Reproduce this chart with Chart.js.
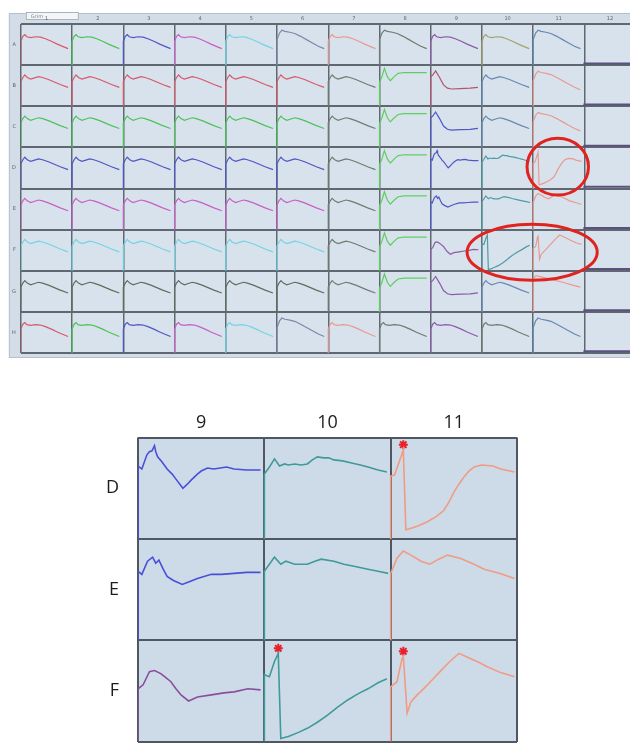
<!DOCTYPE html>
<html>
<head>
<meta charset="utf-8">
<script src="https://cdn.jsdelivr.net/npm/chart.js@4.4.1/dist/chart.umd.min.js"></script>
<style>
  body { margin: 0; background: #fff; width: 630px; height: 748px; position: relative; overflow: hidden; }
  canvas { position: absolute; left: 0; }
  #plate { top: 0; }
  #detail { top: 390px; }
</style>
</head>
<body>
<canvas id="plate" width="630" height="362"></canvas>
<canvas id="detail" width="630" height="358"></canvas>
<script>
// Plate wells
const rowLabels = ['A', 'B', 'C', 'D', 'E', 'F', 'G', 'H'];
const colLabels = ['1', '2', '3', '4', '5', '6', '7', '8', '9', '10', '11', '12'];

// Traces as [fraction of well time, fraction of well height]
const humpTrace = [[0, 0.58], [0.04, 0.70], [0.08, 0.74], [0.12, 0.69], [0.2, 0.67], [0.3, 0.69], [0.4, 0.68], [0.5, 0.64], [0.62, 0.58], [0.74, 0.51], [0.86, 0.45], [0.96, 0.40]];
const peakTrace = [[0, 0.62], [0.05, 0.78], [0.1, 0.85], [0.16, 0.82], [0.26, 0.80], [0.36, 0.77], [0.48, 0.70], [0.6, 0.62], [0.72, 0.54], [0.84, 0.46], [0.96, 0.40]];
const waveTrace = [[0, 0.60], [0.04, 0.70], [0.08, 0.76], [0.13, 0.70], [0.2, 0.66], [0.28, 0.69], [0.36, 0.72], [0.44, 0.70], [0.56, 0.65], [0.68, 0.59], [0.8, 0.53], [0.96, 0.46]];
const spikePlateauTrace = [[0, 0.58], [0.05, 0.72], [0.1, 0.92], [0.16, 0.72], [0.22, 0.62], [0.3, 0.72], [0.38, 0.80], [0.5, 0.82], [0.7, 0.82], [0.96, 0.82]];
const dipFlatTrace = [[0, 0.72], [0.04, 0.76], [0.1, 0.86], [0.18, 0.70], [0.26, 0.52], [0.34, 0.44], [0.42, 0.42], [0.6, 0.43], [0.8, 0.44], [0.96, 0.46]];
const fadeTrace = [[0, 0.80], [0.06, 0.88], [0.2, 0.84], [0.4, 0.78], [0.6, 0.72], [0.8, 0.65], [0.96, 0.60]];
const flatTrace = [[0, 0.04], [1, 0.04]];

const traceD9 = [[0, 0.72], [0.03, 0.69], [0.07, 0.83], [0.09, 0.86], [0.11, 0.87], [0.13, 0.92], [0.14, 0.86], [0.155, 0.81], [0.19, 0.76], [0.23, 0.69], [0.27, 0.64], [0.3, 0.59], [0.355, 0.50], [0.39, 0.54], [0.42, 0.58], [0.47, 0.64], [0.5, 0.67], [0.55, 0.70], [0.6, 0.69], [0.65, 0.70], [0.7, 0.71], [0.76, 0.69], [0.86, 0.68], [0.97, 0.68]];
const traceD10 = [[0, 0.64], [0.04, 0.71], [0.08, 0.79], [0.12, 0.72], [0.16, 0.74], [0.19, 0.73], [0.24, 0.74], [0.29, 0.73], [0.34, 0.74], [0.38, 0.78], [0.42, 0.81], [0.47, 0.80], [0.51, 0.80], [0.55, 0.78], [0.62, 0.77], [0.69, 0.75], [0.76, 0.73], [0.82, 0.71], [0.9, 0.68], [0.97, 0.66]];
const traceD11 = [[0, 0.62], [0.03, 0.63], [0.09, 0.84], [0.10, 0.88], [0.12, 0.09], [0.15, 0.10], [0.22, 0.13], [0.29, 0.17], [0.36, 0.22], [0.42, 0.28], [0.46, 0.36], [0.5, 0.46], [0.54, 0.54], [0.58, 0.61], [0.62, 0.67], [0.66, 0.71], [0.72, 0.73], [0.81, 0.72], [0.87, 0.69], [0.98, 0.66]];
const traceE9 = [[0, 0.68], [0.03, 0.65], [0.075, 0.78], [0.115, 0.82], [0.14, 0.76], [0.165, 0.79], [0.2, 0.70], [0.23, 0.63], [0.28, 0.59], [0.35, 0.55], [0.41, 0.58], [0.47, 0.61], [0.58, 0.65], [0.66, 0.65], [0.76, 0.66], [0.86, 0.67], [0.97, 0.67]];
const traceE10 = [[0, 0.68], [0.08, 0.82], [0.13, 0.75], [0.17, 0.78], [0.24, 0.75], [0.34, 0.75], [0.4, 0.78], [0.45, 0.80], [0.55, 0.78], [0.63, 0.75], [0.71, 0.73], [0.82, 0.70], [0.9, 0.68], [0.98, 0.66]];
const traceE11 = [[0, 0.66], [0.05, 0.81], [0.10, 0.88], [0.16, 0.84], [0.24, 0.78], [0.31, 0.75], [0.38, 0.80], [0.45, 0.84], [0.55, 0.81], [0.66, 0.75], [0.74, 0.70], [0.86, 0.66], [0.98, 0.61]];
const traceF9 = [[0, 0.52], [0.04, 0.56], [0.09, 0.69], [0.13, 0.70], [0.18, 0.67], [0.22, 0.63], [0.26, 0.59], [0.3, 0.52], [0.34, 0.46], [0.4, 0.40], [0.47, 0.44], [0.58, 0.46], [0.68, 0.48], [0.76, 0.49], [0.87, 0.52], [0.97, 0.51]];
const traceF10 = [[0, 0.66], [0.04, 0.64], [0.08, 0.79], [0.11, 0.87], [0.13, 0.03], [0.19, 0.05], [0.27, 0.09], [0.34, 0.13], [0.42, 0.19], [0.5, 0.26], [0.58, 0.34], [0.66, 0.41], [0.74, 0.47], [0.82, 0.52], [0.9, 0.58], [0.97, 0.62]];
const traceF11 = [[0, 0.54], [0.05, 0.59], [0.09, 0.82], [0.10, 0.84], [0.13, 0.28], [0.16, 0.39], [0.21, 0.46], [0.26, 0.52], [0.33, 0.61], [0.39, 0.69], [0.46, 0.78], [0.54, 0.87], [0.63, 0.82], [0.7, 0.78], [0.76, 0.74], [0.87, 0.68], [0.98, 0.64]];

const traces = {
  hump: humpTrace, peak: peakTrace, wave: waveTrace, spike: spikePlateauTrace,
  dip: dipFlatTrace, fade: fadeTrace, flat: flatTrace,
  D9: traceD9, D10: traceD10, D11: traceD11,
  E9: traceE9, E10: traceE10, E11: traceE11,
  F9: traceF9, F10: traceF10, F11: traceF11,
};

// Trace in each well, rows A-H by columns 1-12
const plateTraces = [
  ['hump', 'hump', 'hump', 'hump', 'hump', 'peak', 'hump', 'peak', 'hump', 'hump', 'peak', 'flat'],
  ['wave', 'wave', 'wave', 'wave', 'wave', 'wave', 'wave', 'spike', 'dip', 'wave', 'peak', 'flat'],
  ['wave', 'wave', 'wave', 'wave', 'wave', 'wave', 'wave', 'spike', 'dip', 'wave', 'peak', 'flat'],
  ['wave', 'wave', 'wave', 'wave', 'wave', 'wave', 'wave', 'spike', 'D9', 'D10', 'D11', 'flat'],
  ['wave', 'wave', 'wave', 'wave', 'wave', 'wave', 'wave', 'spike', 'E9', 'E10', 'E11', 'flat'],
  ['wave', 'wave', 'wave', 'wave', 'wave', 'wave', 'wave', 'spike', 'F9', 'F10', 'F11', 'flat'],
  ['wave', 'wave', 'wave', 'wave', 'wave', 'wave', 'wave', 'spike', 'dip', 'wave', 'fade', 'flat'],
  ['hump', 'hump', 'hump', 'hump', 'hump', 'peak', 'hump', 'hump', 'hump', 'hump', 'peak', 'flat'],
];

// Enlarged wells below the plate
const detailRows = ['D', 'E', 'F'];
const detailCols = ['9', '10', '11'];
const starredWells = ['D11', 'F10', 'F11'];

// Line colours
const palette = {
  red: '#d65a6c', green: '#4cc35a', blue: '#4f56c6', magenta: '#c75fc5', cyan: '#74d4e4',
  slate: '#7d88a8', salmon: '#e99a90', gray: '#6f7c72', lime: '#5ccf5c', purple: '#8c5aa8',
  wine: '#b45470', olive: '#a3a46c', steel: '#6788b2', teal: '#4e9ca2', moss: '#58705c', flat: '#5c507e',
};
const plateColors = [
  ['red', 'green', 'blue', 'magenta', 'cyan', 'slate', 'salmon', 'gray', 'purple', 'olive', 'steel', 'flat'],
  ['red', 'red', 'red', 'red', 'red', 'red', 'gray', 'lime', 'wine', 'steel', 'salmon', 'flat'],
  ['green', 'green', 'green', 'green', 'green', 'green', 'gray', 'lime', 'blue', 'steel', 'salmon', 'flat'],
  ['blue', 'blue', 'blue', 'blue', 'blue', 'blue', 'gray', 'lime', 'blue', 'teal', 'salmon', 'flat'],
  ['magenta', 'magenta', 'magenta', 'magenta', 'magenta', 'magenta', 'gray', 'lime', 'blue', 'teal', 'salmon', 'flat'],
  ['cyan', 'cyan', 'cyan', 'cyan', 'cyan', 'cyan', 'gray', 'lime', 'purple', 'teal', 'salmon', 'flat'],
  ['moss', 'moss', 'moss', 'moss', 'moss', 'moss', 'gray', 'lime', 'purple', 'steel', 'salmon', 'flat'],
  ['red', 'green', 'blue', 'magenta', 'cyan', 'slate', 'salmon', 'gray', 'purple', 'gray', 'steel', 'flat'],
];
const detailColors = {
  D9: '#4a4fd8', E9: '#4a4fd8', F9: '#8a4f9c',
  D10: '#3f9a98', E10: '#3f9a98', F10: '#3f9a98',
  D11: '#f19b82', E11: '#f19b82', F11: '#f19b82',
};

// Trace points placed in a well: baseline first, then the recorded curve
const wellPoints = (trace, col, base, span) =>
  [{ x: col, y: base }, ...trace.map(([t, v]) => ({ x: col + t * span, y: base + v }))];

const lineDataset = (data, color, width) => ({
  data, borderColor: color, borderWidth: width, showLine: true,
  pointRadius: 0, fill: false, tension: 0,
});

// Centred tick labels between the grid lines
const centreTicks = (count) => (scale) => {
  scale.ticks = Array.from({ length: count }, (_, i) => ({ value: i + 0.5 }));
};
const edgeTicks = (count) => (scale) => {
  scale.ticks = Array.from({ length: count + 1 }, (_, i) => ({ value: i }));
};
// labels sit mid-cell, so they never overhang the ends of the axis
const noOverhang = (scale) => {
  scale.paddingTop = 0; scale.paddingBottom = 0;
  scale.paddingLeft = 0; scale.paddingRight = 0;
};

// ---------- plate overview ----------
const plateDatasets = [];
rowLabels.forEach((row, r) => {
  colLabels.forEach((col, c) => {
    const trace = traces[plateTraces[r][c]];
    const color = palette[plateColors[r][c]];
    const width = plateTraces[r][c] === 'flat' ? 2 : 1.2;
    plateDatasets.push(lineDataset(wellPoints(trace, c, rowLabels.length - 1 - r, 0.96), color, width));
  });
});

// Red rings around the wells of interest, in axis units
const plateRings = [
  { x: 10.48, y: 4.53, rx: 0.6, ry: 0.69 },
  { x: 9.98, y: 2.45, rx: 1.27, ry: 0.68 },
];

const plateFrame = {
  id: 'plateFrame',
  beforeDraw(chart) {
    const { ctx, chartArea: a } = chart;
    ctx.save();
    ctx.fillStyle = '#d3dde8';
    ctx.fillRect(a.left - 12, a.top - 11, a.width + 12, a.height + 16);
    ctx.strokeStyle = '#b4c0cc';
    ctx.lineWidth = 1;
    ctx.strokeRect(a.left - 11.5, a.top - 10.5, a.width + 12, a.height + 15);
    ctx.fillStyle = '#d8e2ec';
    ctx.fillRect(a.left, a.top, a.width, a.height);
    // window tab
    ctx.fillStyle = '#f3f5f7';
    ctx.fillRect(a.left + 5, a.top - 12, 53, 8);
    ctx.strokeStyle = '#aab3bc';
    ctx.strokeRect(a.left + 5.5, a.top - 11.5, 52, 7);
    ctx.fillStyle = '#7f8790';
    ctx.font = '5px "DejaVu Sans"';
    ctx.fillText('Grim', a.left + 10, a.top - 6);
    ctx.restore();
  },
  afterDraw(chart) {
    const { ctx, scales: { x, y } } = chart;
    ctx.save();
    ctx.strokeStyle = '#e0231f';
    ctx.lineWidth = 3;
    plateRings.forEach((ring) => {
      const cx = x.getPixelForValue(ring.x);
      const cy = y.getPixelForValue(ring.y);
      const rx = x.getPixelForValue(ring.x + ring.rx) - cx;
      const ry = cy - y.getPixelForValue(ring.y + ring.ry);
      ctx.beginPath();
      ctx.ellipse(cx, cy, rx, ry, 0, 0, Math.PI * 2);
      ctx.stroke();
    });
    ctx.restore();
  },
};

new Chart(document.getElementById('plate'), {
  type: 'scatter',
  data: { datasets: plateDatasets },
  options: {
    responsive: false,
    animation: false,
    devicePixelRatio: 1,
    layout: { padding: { left: 7, top: 14, right: 0, bottom: 9 } },
    plugins: { legend: { display: false }, tooltip: { enabled: false } },
    scales: {
      x: {
        type: 'linear', min: 0, max: 11.89,
        afterBuildTicks: edgeTicks(11),
        ticks: { display: false },
        grid: { color: '#5f6870', lineWidth: 1.5, drawTicks: false },
        border: { display: false },
      },
      colAxis: {
        type: 'linear', position: 'top', min: 0, max: 11.89,
        afterBuildTicks: centreTicks(colLabels.length),
        afterFit: noOverhang,
        ticks: { autoSkip: false, maxRotation: 0, padding: 2, color: '#5c636b', font: { size: 5, family: 'DejaVu Sans' }, callback: (v, i) => colLabels[i] },
        grid: { display: false, drawTicks: false },
        border: { display: false },
      },
      y: {
        type: 'linear', min: 0, max: 8,
        afterBuildTicks: edgeTicks(8),
        ticks: { display: false },
        grid: { color: '#5f6870', lineWidth: 2, drawTicks: false },
        border: { display: false },
      },
      rowAxis: {
        type: 'linear', position: 'left', min: 0, max: 8,
        afterBuildTicks: centreTicks(rowLabels.length),
        afterFit: noOverhang,
        ticks: { autoSkip: false, padding: 5, color: '#5c636b', font: { size: 5, family: 'DejaVu Sans' }, callback: (v, i) => rowLabels[rowLabels.length - 1 - i] },
        grid: { display: false, drawTicks: false },
        border: { display: false },
      },
    },
  },
  plugins: [plateFrame],
});

// ---------- enlarged wells ----------
const detailDatasets = [];
const starPoints = [];
detailRows.forEach((row, r) => {
  detailCols.forEach((col, c) => {
    const well = row + col;
    const base = detailRows.length - 1 - r;
    detailDatasets.push(lineDataset(wellPoints(traces[well], c, base, 1), detailColors[well], 1.6));
    if (starredWells.includes(well)) {
      // asterisk sits just above the early spike
      const spike = traces[well].filter(([t]) => t < 0.2).reduce((a, b) => (b[1] > a[1] ? b : a));
      starPoints.push({ x: c + spike[0], y: base + spike[1] + 0.05 });
    }
  });
});
detailDatasets.push({
  data: starPoints, pointStyle: 'star', pointRadius: 4.5, pointBorderWidth: 2,
  pointBorderColor: '#e8202a', pointBackgroundColor: '#e8202a', showLine: false, clip: false,
});

const detailFrame = {
  id: 'detailFrame',
  beforeDraw(chart) {
    const { ctx, chartArea: a } = chart;
    ctx.save();
    ctx.fillStyle = '#cddbe9';
    ctx.fillRect(a.left, a.top, a.width, a.height);
    ctx.restore();
  },
};

new Chart(document.getElementById('detail'), {
  type: 'scatter',
  data: { datasets: detailDatasets },
  options: {
    responsive: false,
    animation: false,
    devicePixelRatio: 1,
    layout: { padding: { left: 87, top: 18, right: 113, bottom: 5 } },
    plugins: { legend: { display: false }, tooltip: { enabled: false } },
    scales: {
      x: {
        type: 'linear', min: 0, max: 3,
        afterBuildTicks: edgeTicks(3),
        ticks: { display: false },
        grid: { color: '#4f5862', lineWidth: 2, drawTicks: false },
        border: { display: false },
      },
      colAxis: {
        type: 'linear', position: 'top', min: 0, max: 3,
        afterBuildTicks: centreTicks(detailCols.length),
        afterFit: noOverhang,
        ticks: { autoSkip: false, maxRotation: 0, padding: 4, color: '#1c1c1c', font: { size: 18, family: 'Open Sans' }, callback: (v, i) => detailCols[i] },
        grid: { display: false, drawTicks: false },
        border: { display: false },
      },
      y: {
        type: 'linear', min: 0, max: 3,
        afterBuildTicks: edgeTicks(3),
        ticks: { display: false },
        grid: { color: '#4f5862', lineWidth: 2, drawTicks: false },
        border: { display: false },
      },
      rowAxis: {
        type: 'linear', position: 'left', min: 0, max: 3,
        afterBuildTicks: centreTicks(detailRows.length),
        afterFit: noOverhang,
        ticks: { autoSkip: false, padding: 19, color: '#1c1c1c', font: { size: 18, family: 'Open Sans' }, callback: (v, i) => detailRows[detailRows.length - 1 - i] },
        grid: { display: false, drawTicks: false },
        border: { display: false },
      },
    },
  },
  plugins: [detailFrame],
});
</script>
</body>
</html>
